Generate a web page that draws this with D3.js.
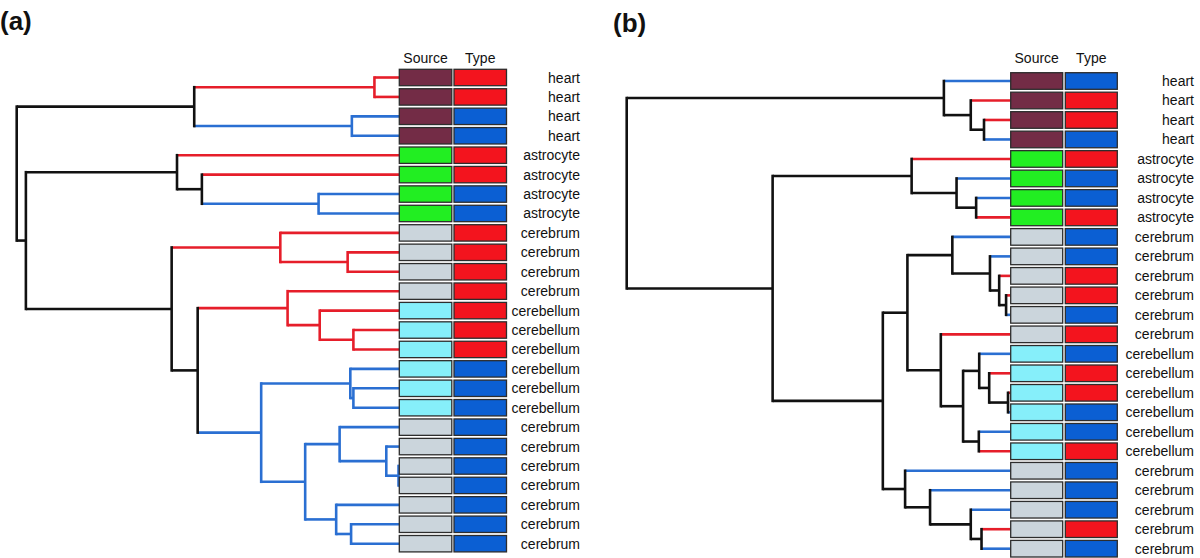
<!DOCTYPE html>
<html><head><meta charset="utf-8">
<script src="https://cdn.jsdelivr.net/npm/d3@7"></script>
<style>
body{margin:0;background:#fff}
svg{display:block}
text{font-family:"Liberation Sans",Arial,Helvetica,sans-serif;fill:#111}
</style>
</head><body>
<svg id="chart" width="1200" height="558"></svg>
<script>
// ---------------- DATA ----------------
const sourceCategories = ["heart","astrocyte","cerebrum","cerebellum"];
const typeCategories = ["R","B"];

// Panel (a): leaves in display order
const tissuesA = ["heart","heart","heart","heart",
  "astrocyte","astrocyte","astrocyte","astrocyte",
  "cerebrum","cerebrum","cerebrum","cerebrum",
  "cerebellum","cerebellum","cerebellum","cerebellum","cerebellum","cerebellum",
  "cerebrum","cerebrum","cerebrum","cerebrum","cerebrum","cerebrum","cerebrum"];
const typesA = ["R","R","B","B","R","R","B","B","R","R","R","R","R","R","R",
  "B","B","B","B","B","B","B","B","B","B"];
// hclust-style merges: [left, right, height]; negative = leaf (1-based row), positive = earlier merge (1-based)
const mergesA = [[-1,-2,0.065],[-3,-4,0.124],[1,2,0.536],[-7,-8,0.211],[-6,4,0.516],[-5,5,0.581],
  [-10,-11,0.135],[-9,7,0.311],[-14,-15,0.120],[-13,9,0.208],[-12,10,0.292],
  [-17,-18,0.120],[-16,12,0.128],[-21,-22,0.002],[-20,14,0.034],[-19,15,0.156],
  [-24,-25,0.126],[-23,17,0.165],[16,18,0.246],[13,19,0.361],[11,20,0.527],
  [8,21,0.595],[6,22,0.976],[3,23,1.000]];

// Panel (b)
const tissuesB = ["heart","heart","heart","heart",
  "astrocyte","astrocyte","astrocyte","astrocyte",
  "cerebrum","cerebrum","cerebrum","cerebrum","cerebrum","cerebrum",
  "cerebellum","cerebellum","cerebellum","cerebellum","cerebellum","cerebellum",
  "cerebrum","cerebrum","cerebrum","cerebrum","cerebrum"];
const typesB = ["B","R","R","B","R","B","B","R","B","B","R","R","B","R",
  "B","R","R","B","B","R","B","B","B","R","B"];
const mergesB = [[-3,-4,0.0695],[-2,1,0.104],[-1,2,0.174],[-7,-8,0.090],[-6,4,0.141],[-5,5,0.258],
  [-12,-13,0.012],[-11,7,0.030],[-10,8,0.054],[-9,9,0.152],
  [-17,-18,0.007],[-16,11,0.056],[-15,12,0.082],[-19,-20,0.083],[13,14,0.124],[-14,15,0.182],
  [10,16,0.269],[-24,-25,0.076],[-23,18,0.104],[-22,19,0.210],[-21,20,0.275],
  [17,21,0.333],[6,22,0.620],[3,23,1.000]];

const headerLabels = ["Source","Type"];
const panelTitles = ["(a)","(b)"];

// ---------------- STYLE ----------------
const sourceColor = d3.scaleOrdinal().domain(sourceCategories)
  .range(["#732c46","#22ee22","#cbd5dc","#86effa"]);
const typeColor = d3.scaleOrdinal().domain(typeCategories).range(["#f3141e","#0b5fd3"]);
const lineColor = d3.scaleOrdinal().domain(["R","B","mixed"]).range(["#e61e2a","#2a6fd2","#111111"]);

const svg = d3.select("#chart");

function buildTree(merges, nLeaves) {
  const made = [];
  const ref = v => v < 0 ? {row: -v - 1, height: 0} : made[v - 1];
  merges.forEach(m => made.push({children: [ref(m[0]), ref(m[1])], height: m[2]}));
  return made[made.length - 1];
}

function drawPanel(cfg) {
  const {tissues, types, merges, rowY0, rowY1, treeX0, treeX1, srcX, typX, boxW, boxH, labelX, title, titleY} = cfg;
  const n = tissues.length;
  const rowScale = d3.scaleLinear().domain([0, n - 1]).range([rowY0, rowY1]);
  const root = d3.hierarchy(buildTree(merges, n));
  const hScale = d3.scaleLinear().domain([0, d3.max(merges, m => m[2])]).range([treeX1, treeX0]);

  root.eachAfter(d => {
    if (!d.children) {
      d.py = rowScale(d.data.row);
      d.col = types[d.data.row];
    } else {
      d.py = d3.mean(d.children, c => c.py);
      const cs = new Set(d.children.map(c => c.col));
      d.col = cs.size === 1 ? d.children[0].col : "mixed";
    }
    d.px = hScale(d.data.height);
  });

  const g = svg.append("g");
  // horizontal edges
  g.selectAll("line.h").data(root.descendants().filter(d => d.parent))
    .join("line").attr("class","h")
    .attr("x1", d => d.parent.px).attr("x2", d => d.px)
    .attr("y1", d => d.py).attr("y2", d => d.py)
    .attr("stroke", d => lineColor(d.col)).attr("stroke-width", 2.6)
    .attr("stroke-linecap","butt");
  // vertical edges
  g.selectAll("line.v").data(root.descendants().filter(d => d.children))
    .join("line").attr("class","v")
    .attr("x1", d => d.px).attr("x2", d => d.px)
    .attr("y1", d => d3.min(d.children, c => c.py)).attr("y2", d => d3.max(d.children, c => c.py))
    .attr("stroke", d => lineColor(d.col)).attr("stroke-width", 2.6)
    .attr("stroke-linecap","square");

  const rows = d3.range(n);
  g.selectAll("rect.src").data(rows).join("rect").attr("class","src")
    .attr("x", srcX).attr("y", i => rowScale(i) - boxH / 2)
    .attr("width", boxW).attr("height", boxH)
    .attr("fill", i => sourceColor(tissues[i])).attr("stroke", "#2d2d2d").attr("stroke-width", 1.3);
  g.selectAll("rect.typ").data(rows).join("rect").attr("class","typ")
    .attr("x", typX).attr("y", i => rowScale(i) - boxH / 2)
    .attr("width", boxW).attr("height", boxH)
    .attr("fill", i => typeColor(types[i])).attr("stroke", "#2d2d2d").attr("stroke-width", 1.3);

  g.selectAll("text.lab").data(rows).join("text").attr("class","lab")
    .attr("x", labelX).attr("y", i => rowScale(i) + 5)
    .attr("text-anchor","end").attr("font-size", 14)
    .text(i => tissues[i]);

  g.selectAll("text.hdr").data(headerLabels).join("text").attr("class","hdr")
    .attr("x", (d, i) => (i === 0 ? srcX : typX) + boxW / 2)
    .attr("y", 63).attr("text-anchor","middle").attr("font-size", 14)
    .text(d => d);

  g.append("text").attr("x", cfg.titleX).attr("y", titleY)
    .attr("font-size", 26).attr("font-weight","bold").text(title);
}

drawPanel({tissues: tissuesA, types: typesA, merges: mergesA,
  rowY0: 77.5, rowY1: 543.7, treeX0: 16.7, treeX1: 399.3,
  srcX: 399.3, typX: 454, boxW: 52.5, boxH: 16.4, labelX: 580,
  title: panelTitles[0], titleX: 0, titleY: 30});

drawPanel({tissues: tissuesB, types: typesB, merges: mergesB,
  rowY0: 81, rowY1: 548.7, treeX0: 626.7, treeX1: 1010.7,
  srcX: 1010.7, typX: 1065.3, boxW: 52, boxH: 16.6, labelX: 1194,
  title: panelTitles[1], titleX: 613, titleY: 32});
</script>
</body></html>
